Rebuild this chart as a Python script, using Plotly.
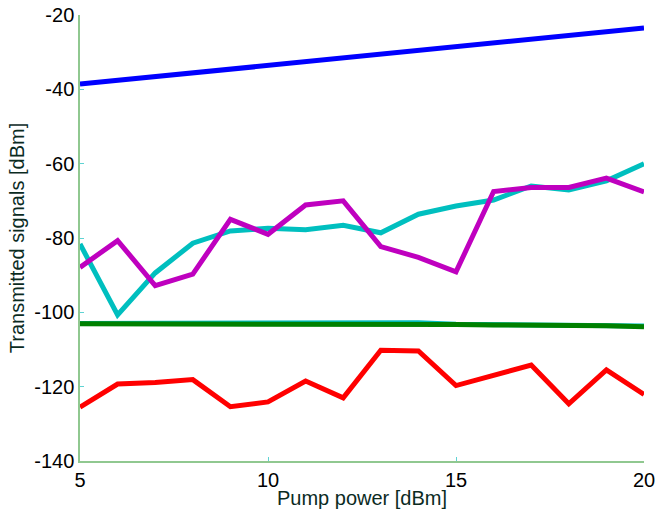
import plotly.graph_objects as go

pump_power = [5, 6, 7, 8, 9, 10, 11, 12, 13, 14, 15, 16, 17, 18, 19, 20]

blue_vals = [-38.6, -37.6, -36.6, -35.6, -34.6, -33.6, -32.6, -31.6, -30.6, -29.6,
             -28.5, -27.5, -26.5, -25.5, -24.5, -23.5]
cyan_vals = [-81.6, -100.7, -89.4, -81.4, -78.1, -77.4, -77.8, -76.6, -78.6, -73.6,
             -71.4, -69.8, -66.0, -67.1, -64.6, -60.0]
magenta_vals = [-87.9, -80.7, -92.8, -89.7, -75.0, -79.0, -71.1, -70.0, -82.3, -85.2,
                -89.1, -67.5, -66.4, -66.4, -63.9, -67.6]
green_vals = [-103.1, -103.1, -103.1, -103.1, -103.0, -103.2, -103.1, -103.3, -103.1, -103.2,
              -103.3, -103.4, -103.4, -103.4, -103.6, -103.9]
cyan_low_vals = [-103.0, -103.0, -102.8, -102.8, -103.0, -102.8, -103.1, -102.8, -102.8, -102.8,
                 -103.2, -103.3, -103.3, -103.3, -103.4, -103.7]
red_vals = [-125.5, -119.3, -118.9, -118.1, -125.4, -124.1, -118.5, -123.0, -110.2, -110.4,
            -119.7, -116.9, -114.2, -124.6, -115.5, -122.1]

x_ticks = [5, 10, 15, 20]
x_tick_text = ["5", "10", "15", "20"]
y_ticks = [-140, -120, -100, -80, -60, -40, -20]
y_tick_text = ["-140", "-120", "-100", "-80", "-60", "-40", "-20"]

fig = go.Figure()
series = [
    (blue_vals, "#0000ff"),
    (cyan_vals, "#00bfbf"),
    (magenta_vals, "#bf00bf"),
    (cyan_low_vals, "#00bfbf"),
    (green_vals, "#008000"),
    (red_vals, "#ff0000"),
]
for vals, col in series:
    fig.add_trace(go.Scatter(x=pump_power, y=vals, mode="lines",
                             line=dict(color=col, width=5), showlegend=False))

fam = "Liberation Sans, Arial, sans-serif"
tick_font = dict(family=fam, size=20, color="#000000")
title_font = dict(family=fam, size=20, color="#0b2b1f")
fig.update_layout(
    width=657, height=509,
    margin=dict(l=80, r=13, t=15, b=48),
    paper_bgcolor="white", plot_bgcolor="white",
    font=tick_font,
    xaxis=dict(range=[5, 20], tickvals=x_ticks, ticktext=x_tick_text, ticks="inside", ticklen=4,
               tickcolor="#5fd3d3", showline=True, linecolor="#90c890", linewidth=1.5,
               showgrid=False, zeroline=False, tickfont=tick_font, automargin=False,
               title=dict(text="Pump power [dBm]", standoff=4, font=title_font)),
    yaxis=dict(range=[-140, -20], tickvals=y_ticks, ticktext=y_tick_text, ticks="inside", ticklen=4,
               tickcolor="#5fd3d3", showline=True, linecolor="#90c890", linewidth=1.5,
               showgrid=False, zeroline=False, tickfont=tick_font, automargin=False,
               title=dict(text="Transmitted signals [dBm]", standoff=4, font=title_font)),
)
fig.write_html("out.html")
